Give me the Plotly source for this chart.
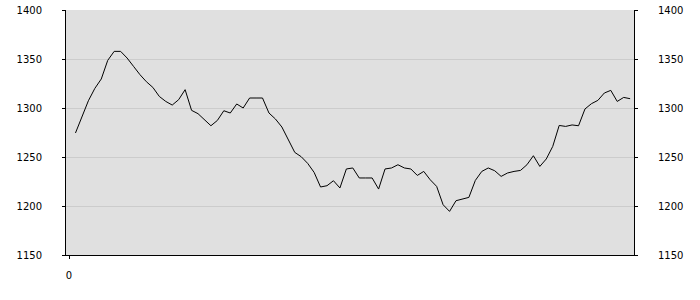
import plotly.graph_objects as go

# Data
x_values = list(range(1, 88))
y_values = [
    1274.5, 1290.8, 1307.4, 1320.0, 1329.6, 1348.6, 1357.8, 1357.8, 1351.0, 1342.5,
    1334.0, 1326.8, 1321.0, 1311.8, 1306.7, 1303.0, 1308.5, 1318.7, 1297.6, 1294.2,
    1288.4, 1281.9, 1287.3, 1297.2, 1294.9, 1304.1, 1300.0, 1310.2, 1310.2, 1310.2,
    1294.9, 1288.8, 1280.6, 1268.0, 1254.7, 1250.3, 1243.5, 1234.3, 1219.4, 1220.7,
    1225.8, 1218.4, 1237.8, 1238.8, 1228.6, 1228.6, 1228.6, 1217.3, 1237.8, 1238.8,
    1242.1, 1238.8, 1237.8, 1231.2, 1235.3, 1226.8, 1220.0, 1201.3, 1194.5, 1205.4,
    1207.4, 1208.8, 1226.1, 1235.3, 1238.8, 1236.0, 1230.2, 1233.7, 1235.3, 1236.3,
    1242.1, 1251.3, 1240.4, 1248.0, 1260.8, 1282.2, 1281.2, 1282.7, 1281.9, 1299.0,
    1304.4, 1307.8, 1315.3, 1318.0, 1306.7, 1310.8, 1309.5,
]
y_ticks = [1150, 1200, 1250, 1300, 1350, 1400]
x_ticks = [0]

fig = go.Figure()
fig.add_trace(go.Scatter(
    x=x_values, y=y_values, mode="lines",
    line=dict(color="#000000", width=1),
    showlegend=False, hoverinfo="skip",
))
fig.add_trace(go.Scatter(
    x=x_values, y=y_values, mode="lines", yaxis="y2",
    line=dict(color="rgba(0,0,0,0)", width=1),
    showlegend=False, hoverinfo="skip",
))

font = dict(family="DejaVu Sans", size=10, color="#000000")

fig.update_layout(
    width=700, height=300,
    margin=dict(l=66, r=66, t=10, b=45, autoexpand=False),
    paper_bgcolor="#ffffff",
    plot_bgcolor="#e0e0e0",
    font=font,
    xaxis=dict(
        range=[-0.47, 87.6],
        tickvals=x_ticks, ticktext=[str(v) for v in x_ticks],
        showgrid=False, zeroline=False,
        showline=True, linecolor="#000000", linewidth=1,
        ticks="outside", ticklen=3, tickcolor="#000000",
        ticklabelstandoff=8,
        tickfont=font, automargin=False,
    ),
    yaxis=dict(
        range=[1150, 1400],
        tickvals=y_ticks,
        showgrid=True, gridcolor="#cccccc", gridwidth=1,
        zeroline=False,
        showline=True, linecolor="#000000", linewidth=1,
        ticks="outside", ticklen=3, tickcolor="#000000",
        ticklabelstandoff=18,
        tickfont=font, automargin=False,
    ),
    yaxis2=dict(
        range=[1150, 1400],
        overlaying="y", side="right",
        tickvals=y_ticks,
        showgrid=False, zeroline=False,
        showline=True, linecolor="#000000", linewidth=1,
        ticks="outside", ticklen=3, tickcolor="#000000",
        ticklabelstandoff=18,
        tickfont=font, automargin=False,
    ),
)

fig.write_html("out.html")
